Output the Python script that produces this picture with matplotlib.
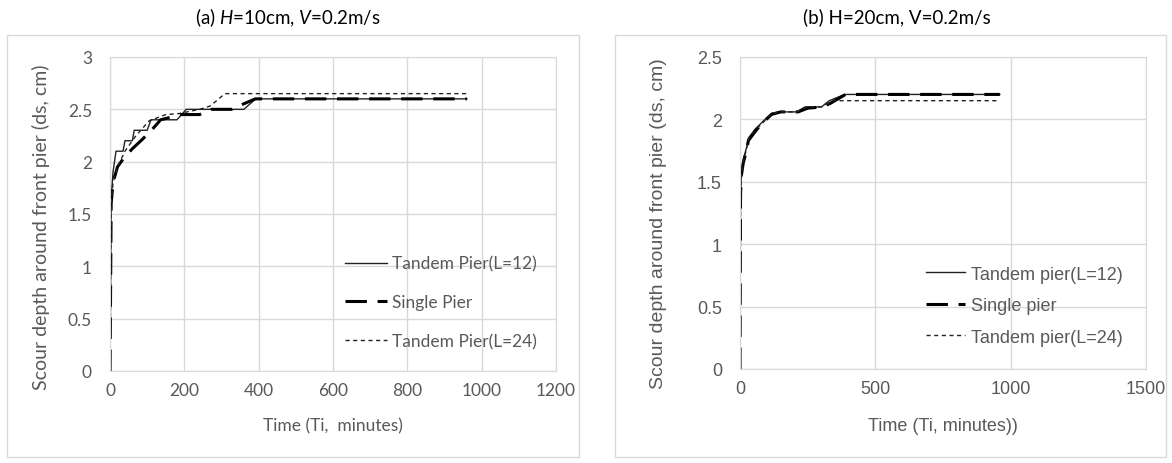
import numpy as np
import matplotlib
matplotlib.use("Agg")
import matplotlib.pyplot as plt
from matplotlib.patches import Rectangle

# scour depth (cm) against time (minutes) at the front pier
# (a) H=10cm, V=0.2m/s
a_t_tandem12 = [0, 3, 5, 8, 12, 16, 35, 40, 60, 65, 100, 110, 180, 205, 360, 392, 960]
a_d_tandem12 = [0, 1.6, 1.75, 1.9, 2.0, 2.1, 2.1, 2.2, 2.2, 2.3, 2.3, 2.4, 2.4, 2.5, 2.5, 2.6, 2.6]
a_t_single = [0, 3, 8, 20, 36, 59, 86, 114, 136, 191, 241, 273, 327, 345, 391, 960]
a_d_single = [0, 1.6, 1.8, 1.95, 2.03, 2.12, 2.21, 2.31, 2.4, 2.45, 2.45, 2.5, 2.5, 2.53, 2.6, 2.6]
a_t_tandem24 = [0, 3, 8, 20, 40, 68, 105, 150, 186, 241, 268, 286, 309, 960]
a_d_tandem24 = [0, 1.6, 1.8, 1.95, 2.1, 2.24, 2.39, 2.45, 2.46, 2.5, 2.53, 2.58, 2.65, 2.65]

# (b) H=20cm, V=0.2m/s
b_t_tandem12 = [0, 2, 5, 12, 25, 31, 55, 74, 92, 117, 150, 209, 240, 301, 330, 387, 960]
b_d_tandem12 = [0, 1.4, 1.55, 1.68, 1.78, 1.85, 1.92, 1.96, 2.0, 2.05, 2.06, 2.06, 2.1, 2.1, 2.15, 2.2, 2.2]
b_t_single = [0, 2, 5, 12, 25, 31, 55, 74, 92, 117, 150, 215, 250, 305, 335, 390, 960]
b_d_single = [0, 1.4, 1.55, 1.65, 1.76, 1.83, 1.9, 1.95, 1.99, 2.04, 2.06, 2.06, 2.09, 2.1, 2.13, 2.2, 2.2]
b_t_tandem24 = [0, 2, 5, 12, 25, 31, 55, 74, 92, 117, 150, 209, 246, 301, 344, 960]
b_d_tandem24 = [0, 1.4, 1.55, 1.66, 1.77, 1.84, 1.91, 1.95, 1.99, 2.05, 2.06, 2.06, 2.1, 2.1, 2.15, 2.15]

TXT = "#595959"
GRID = "#d9d9d9"

plt.rcParams["mathtext.fontset"] = "custom"
plt.rcParams["mathtext.rm"] = "Lato"
plt.rcParams["mathtext.it"] = "Lato:italic"

fig = plt.figure(figsize=(11.72, 4.64), dpi=100)
fig.patch.set_facecolor("white")

# outer chart frames
for x0, w in [(0.006, 0.488), (0.5247, 0.4705)]:
    fig.patches.append(Rectangle((x0, 0.013), w, 0.909, transform=fig.transFigure,
                                 fill=False, edgecolor=GRID, linewidth=1.0))

ax1 = fig.add_axes([0.0939, 0.1983, 0.3805, 0.6767])
ax2 = fig.add_axes([0.6314, 0.2026, 0.3464, 0.6724])


def style_axes(ax, font, size):
    ax.grid(True, color=GRID, linewidth=1.0)
    ax.set_axisbelow(True)
    for sp in ax.spines.values():
        sp.set_color(GRID)
    ax.tick_params(length=0, labelcolor=TXT, labelsize=size)
    ax.tick_params(axis="y", pad=13)
    ax.tick_params(axis="x", pad=8)
    for lab in ax.get_xticklabels() + ax.get_yticklabels():
        lab.set_fontfamily(font)


# panel (a)
ax1.plot(a_t_tandem12, a_d_tandem12, color="#222222", lw=1.0, label="Tandem Pier(L=12)")
ax1.plot(a_t_single, a_d_single, color="black", lw=2.2, dashes=(7, 3.5), label="Single Pier")
ax1.plot(a_t_tandem24, a_d_tandem24, color="#222222", lw=1.0, dashes=(3, 2.5), label="Tandem Pier(L=24)")
ax1.set_xlim(0, 1200)
ax1.set_ylim(0, 3)
ax1.set_xticks(np.arange(0, 1201, 200))
ax1.set_yticks([0, 0.5, 1, 1.5, 2, 2.5, 3])
ax1.set_yticklabels(["0", "0.5", "1", "1.5", "2", "2.5", "3"])
style_axes(ax1, "Lato", 12.5)
ax1.set_xlabel("Time (Ti,  minutes)", family="Lato", fontsize=12.5, color=TXT, labelpad=14)
ax1.set_ylabel("Scour depth around front pier (ds, cm)", family="Lato", fontsize=14,
               color=TXT)
ax1.yaxis.set_label_coords(-0.135, 0.46)
leg1 = ax1.legend(loc="upper left", bbox_to_anchor=(0.508, 0.395), frameon=False,
                  prop={"family": "Lato", "size": 12.5}, handlelength=2.4,
                  handletextpad=0.3, labelspacing=1.3, borderpad=0)
for t in leg1.get_texts():
    t.set_color(TXT)
fig.text(0.246, 0.962, "(a) $\\mathit{H}$=10cm, $\\mathit{V}$=0.2m/s", ha="center", va="center",
         family="Lato", fontsize=13.5, color="black")

# panel (b)
ax2.plot(b_t_tandem12, b_d_tandem12, color="#222222", lw=1.0, label="Tandem pier(L=12)")
ax2.plot(b_t_single, b_d_single, color="black", lw=2.2, dashes=(7, 3.5), label="Single pier")
ax2.plot(b_t_tandem24, b_d_tandem24, color="#222222", lw=1.0, dashes=(3, 2.5), label="Tandem pier(L=24)")
ax2.set_xlim(0, 1500)
ax2.set_ylim(0, 2.5)
ax2.set_xticks([0, 500, 1000, 1500])
ax2.set_yticks([0, 0.5, 1, 1.5, 2, 2.5])
ax2.set_yticklabels(["0", "0.5", "1", "1.5", "2", "2.5"])
style_axes(ax2, "Liberation Sans", 13)
ax2.set_xlabel("Time (Ti, minutes))", family="Liberation Sans", fontsize=13, color=TXT, labelpad=14)
ax2.set_ylabel("Scour depth around front pier (ds, cm)", family="Liberation Sans", fontsize=14,
               color=TXT)
ax2.yaxis.set_label_coords(-0.18, 0.47)
leg2 = ax2.legend(loc="upper left", bbox_to_anchor=(0.435, 0.36), frameon=False,
                  prop={"family": "Liberation Sans", "size": 13}, handlelength=2.2,
                  handletextpad=0.3, labelspacing=0.8, borderpad=0)
for t in leg2.get_texts():
    t.set_color(TXT)
fig.text(0.765, 0.962, "(b) H=20cm, V=0.2m/s", ha="center", va="center",
         family="Lato", fontsize=13.5, color="black")

fig.savefig("out.png", dpi=100, facecolor="white")
